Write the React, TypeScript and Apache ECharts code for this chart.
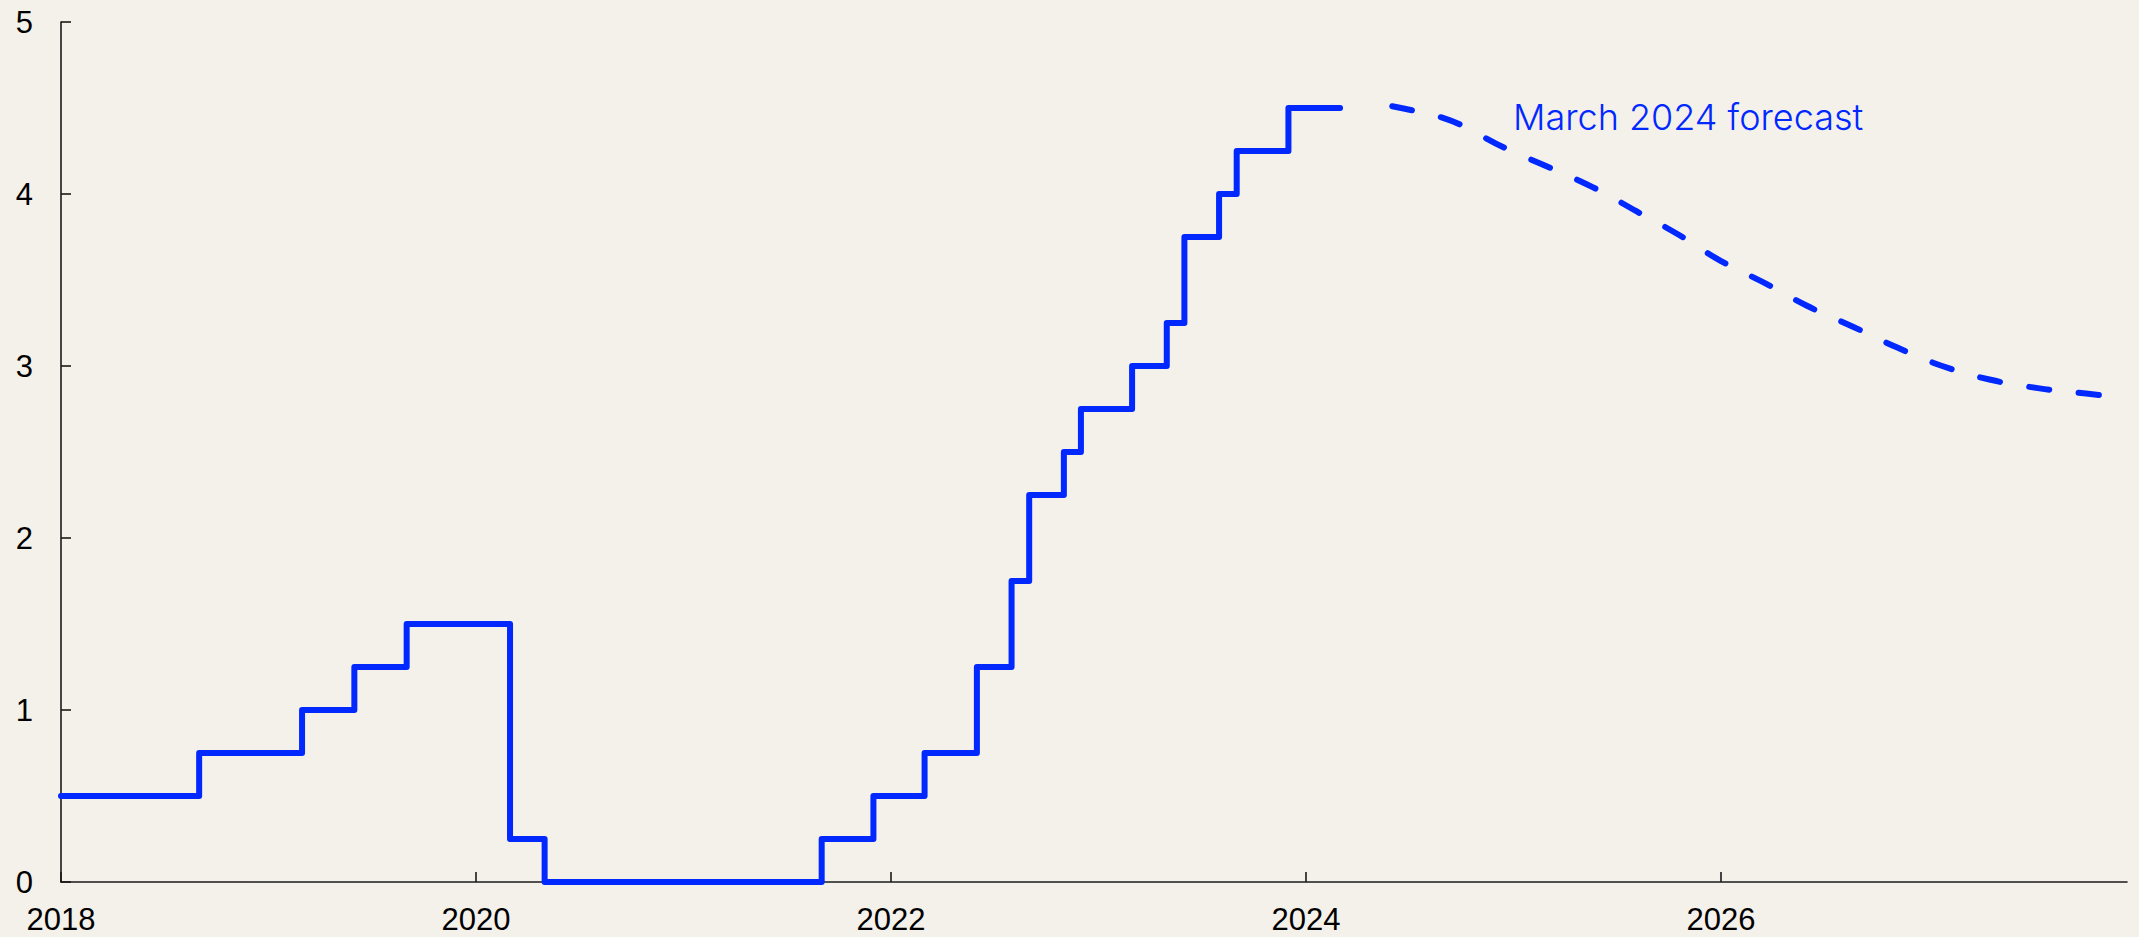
import React, { useEffect, useRef } from 'react';
import * as echarts from 'echarts';

// Policy rate: month of each change and the new rate (last entry = end of actual data)
const rateChangeDates = [
  '2018-01-01', '2018-09-01', '2019-03-01', '2019-06-01', '2019-09-01',
  '2020-03-01', '2020-05-01', '2021-09-01', '2021-12-01', '2022-03-01',
  '2022-06-01', '2022-08-01', '2022-09-01', '2022-11-01', '2022-12-01',
  '2023-03-01', '2023-05-01', '2023-06-01', '2023-08-01', '2023-09-01',
  '2023-12-01', '2024-03-01',
];
const rateValues = [
  0.5, 0.75, 1.0, 1.25, 1.5,
  0.25, 0, 0.25, 0.5, 0.75,
  1.25, 1.75, 2.25, 2.5, 2.75,
  3.0, 3.25, 3.75, 4.0, 4.25,
  4.5, 4.5,
];

// March 2024 forecast path
const forecastDates = [
  '2024-06-01', '2024-07-15', '2024-09-01', '2024-10-01', '2024-12-15',
  '2025-03-01', '2025-05-20', '2025-08-05', '2025-10-20', '2026-01-01',
  '2026-03-20', '2026-06-01', '2026-08-20', '2026-11-05', '2027-01-25',
  '2027-04-20', '2027-07-15', '2027-10-05', '2027-12-01',
];
const forecastValues = [
  4.51, 4.48, 4.44, 4.40, 4.27,
  4.16, 4.04, 3.90, 3.76, 3.61,
  3.48, 3.35, 3.23, 3.11, 3.00,
  2.92, 2.87, 2.84, 2.82,
];

const xTickYears = [2018, 2020, 2022, 2024, 2026];
const xAxisStart = 2018;
const xAxisEnd = '2027-12-16';
const yMin = 0;
const yMax = 5;
const forecastLabel = 'March 2024 forecast';

const BLUE = '#0028ff';
const BG = '#f4f1eb';
const AXIS = '#1a1a1a';

function toYear(d: string): number {
  const [y, m, day] = d.split('-').map(Number);
  const start = Date.UTC(y, 0, 1);
  const end = Date.UTC(y + 1, 0, 1);
  return y + (Date.UTC(y, m - 1, day) - start) / (end - start);
}

export default function App() {
  const ref = useRef<HTMLDivElement>(null);

  useEffect(() => {
    document.body.style.margin = '0';
    document.body.style.background = BG;
    if (!ref.current) return;
    const chart = echarts.init(ref.current, undefined, { renderer: 'svg' });

    const rateData = rateChangeDates.map((d, i) => [toYear(d), rateValues[i]]);
    const forecastData = forecastDates.map((d, i) => [toYear(d), forecastValues[i]]);

    chart.setOption({
      animation: false,
      backgroundColor: BG,
      grid: { left: 61, right: 12, top: 22, bottom: 55, containLabel: false },
      xAxis: {
        type: 'value',
        min: xAxisStart,
        max: toYear(xAxisEnd),
        interval: 2,
        axisLine: { show: true, lineStyle: { color: AXIS, width: 1.6 } },
        axisTick: {
          show: true,
          inside: true,
          length: 10,
          customValues: xTickYears,
          lineStyle: { color: AXIS, width: 1.6 },
        },
        axisLabel: {
          customValues: xTickYears,
          formatter: (v: number) => String(Math.round(v)),
          color: '#000',
          fontFamily: 'Liberation Sans, Arial, sans-serif',
          fontSize: 31,
          margin: 22,
        },
        splitLine: { show: false },
      },
      yAxis: {
        type: 'value',
        min: yMin,
        max: yMax,
        interval: 1,
        axisLine: { show: true, lineStyle: { color: AXIS, width: 1.6 } },
        axisTick: { show: true, inside: true, length: 10, lineStyle: { color: AXIS, width: 1.6 } },
        axisLabel: {
          color: '#000',
          fontFamily: 'Liberation Sans, Arial, sans-serif',
          fontSize: 31,
          margin: 28,
        },
        splitLine: { show: false },
      },
      series: [
        {
          type: 'line',
          name: 'Policy rate',
          data: rateData,
          step: 'end',
          symbol: 'none',
          lineStyle: { color: BLUE, width: 6, cap: 'round', join: 'round' },
          z: 3,
        },
        {
          type: 'line',
          name: forecastLabel,
          data: forecastData,
          smooth: 0.4,
          symbol: 'none',
          lineStyle: { color: BLUE, width: 6, type: [20, 30], cap: 'round', join: 'round' },
          z: 3,
        },
      ],
      graphic: [
        {
          type: 'text',
          left: 1513,
          top: 99,
          style: {
            text: forecastLabel,
            fill: BLUE,
            font: '350 36px Inter, "Noto Sans", sans-serif',
          },
        },
      ],
    });

    return () => chart.dispose();
  }, []);

  return <div ref={ref} style={{ width: 2139, height: 937 }} />;
}
